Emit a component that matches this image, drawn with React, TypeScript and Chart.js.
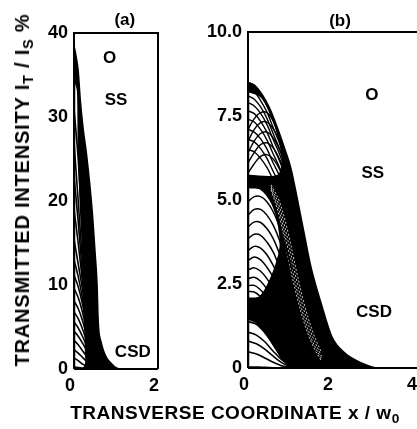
import React, { useEffect, useRef } from 'react';
import { Chart, registerables } from 'chart.js';

Chart.register(...registerables);

const FONT = '"Liberation Sans", Arial, Helvetica, sans-serif';
const NARROW = '"Liberation Sans Narrow", "Liberation Sans", Arial, sans-serif';

// ---------- panel (a) ----------
const aXTicks = [0, 2];
const aXLabels = ['0', '2'];
const aYTicks = [0, 10, 20, 30, 40];
const aYLabels = ['0', '10', '20', '30', '40'];

// outer envelope of the curve family
const aEnvX = [0, 0.04, 0.1, 0.15, 0.22, 0.3, 0.43, 0.5, 0.55, 0.57, 0.59, 0.64, 0.7, 0.78, 0.9, 1.0, 1.08, 2.0];
const aEnvY = [38.5, 37.5, 35.5, 32, 28.5, 25.5, 19, 14, 10, 6.5, 4.6, 3.3, 2.2, 1.3, 0.6, 0.15, 0, 0];

// open (white) region between the curves near the axis
const aHoleX = [0.03, 0.07, 0.09, 0.14, 0.2, 0.22, 0.26, 0.24, 0.03];
const aHoleY = [34, 33, 26, 19, 13, 8, 2, 0.3, 0.3];

// individual low-intensity curves
const aCurveX = [0, 0.1, 0.2, 0.3];
const aCurveY = [
  [31, 25, 17, 10],
  [27, 20, 13, 8],
  [23, 17.5, 11.5, 7],
  [19, 15, 10.5, 6.5],
  [15.5, 12.5, 9.5, 6],
  [13, 11, 8.5, 5.5],
  [11.2, 9.8, 7.8, 5],
  [9.6, 8.5, 6.8, 4.5],
  [8.1, 7.2, 5.8, 4],
  [6.8, 6.0, 4.8, 3.4],
  [5.6, 4.9, 3.9, 2.8],
  [4.5, 3.9, 3.1, 2.2],
  [3.4, 2.9, 2.2, 1.5],
  [2.3, 1.9, 1.4, 0.9],
  [1.3, 1.0, 0.6, 0.3],
];

const aNoteText = ['O', 'SS', 'CSD'];
const aNoteX = [0.85, 1.0, 1.4];
const aNoteY = [37, 32, 2];
const aPanelLabel = '(a)';
const aPanelX = 1.21;
const aPanelY = 41.5;

// ---------- panel (b) ----------
const bXTicks = [0, 2, 4];
const bXLabels = ['0', '2', '4'];
const bYTicks = [0, 2.5, 5, 7.5, 10];
const bYLabels = ['0', '2.5', '5.0', '7.5', '10.0'];

const bEnvX = [0, 0.2, 0.5, 0.7, 0.86, 1.02, 1.17, 1.33, 1.5, 1.74, 2.0, 2.3, 2.7, 3.1, 4.0];
const bEnvY = [8.5, 8.36, 7.77, 7.15, 6.58, 5.95, 5.06, 4.05, 3.0, 1.93, 0.92, 0.45, 0.15, 0, 0];

const bHole1X = [0.03, 0.3, 0.55, 0.72, 0.8, 0.7, 0.03];
const bHole1Y = [8.2, 8.05, 7.5, 6.8, 6.2, 5.75, 5.75];
const bHole2X = [0.03, 0.3, 0.55, 0.7, 0.75, 0.6, 0.4, 0.25, 0.03];
const bHole2Y = [5.35, 5.3, 4.9, 4.3, 3.6, 2.9, 2.35, 2.12, 2.1];
const bHole3X = [0.03, 0.2, 0.4, 0.6, 0.8, 0.92, 0.03];
const bHole3Y = [1.42, 1.32, 1.05, 0.65, 0.25, 0.05, 0.05];

// on-axis-peaked curves and off-axis-peaked curves forming the mesh
const bMeshX = [0, 0.15, 0.3, 0.45, 0.6, 0.75, 0.9, 1.05];
const bMeshY = [
  [8.5, 8.42, 8.15, 7.8, 7.35, 6.85, 6.3, 5.7],
  [8.3, 8.22, 7.96, 7.62, 7.15, 6.7, 6.15, 5.55],
  [8.1, 8.0, 7.77, 7.43, 6.97, 6.53, 6.0, 5.4],
  [7.9, 7.8, 7.58, 7.25, 6.8, 6.37, 5.85, 5.28],
  [7.65, 7.57, 7.34, 7.02, 6.58, 6.17, 5.66, 5.1],
  [7.4, 7.32, 7.1, 6.79, 6.37, 5.97, 5.48, 4.95],
  [7.1, 7.02, 6.82, 6.52, 6.1, 5.72, 5.25, 4.75],
  [6.8, 6.73, 6.53, 6.24, 5.85, 5.48, 5.03, 4.55],
  [6.5, 6.43, 6.24, 5.97, 5.6, 5.24, 4.81, 4.35],
  [7.1, 7.42, 7.6, 7.6, 7.35, 6.9, 6.35, 5.75],
  [6.75, 7.1, 7.3, 7.32, 7.12, 6.75, 6.22, 5.62],
  [6.4, 6.76, 6.98, 7.02, 6.85, 6.5, 6.0, 5.42],
  [6.1, 6.42, 6.65, 6.7, 6.55, 6.22, 5.75, 5.2],
  [5.8, 6.08, 6.3, 6.35, 6.22, 5.92, 5.48, 4.95],
];

const bArcX = [0, 0.15, 0.3, 0.45, 0.6, 0.75, 0.9, 1.05];
const bArcY = [
  [4.95, 5.1, 5.1, 4.95, 4.65, 4.2, 3.6, 2.9],
  [4.55, 4.72, 4.72, 4.55, 4.25, 3.8, 3.2, 2.5],
  [4.2, 4.35, 4.33, 4.15, 3.85, 3.4, 2.85, 2.2],
  [3.85, 3.98, 3.95, 3.75, 3.45, 3.0, 2.5, 1.9],
  [3.5, 3.62, 3.57, 3.37, 3.05, 2.65, 2.15, 1.6],
  [3.2, 3.3, 3.22, 3.0, 2.7, 2.3, 1.85, 1.35],
  [2.92, 2.98, 2.88, 2.66, 2.35, 2.0, 1.6, 1.15],
  [2.66, 2.7, 2.58, 2.35, 2.05, 1.72, 1.35, 0.95],
  [2.45, 2.46, 2.32, 2.1, 1.82, 1.5, 1.15, 0.8],
  [2.28, 2.26, 2.12, 1.9, 1.62, 1.32, 1.0, 0.7],
];

const bLowX = [0, 0.2, 0.4, 0.6, 0.8, 1.0];
const bLowY = [
  [1.38, 1.3, 1.05, 0.7, 0.35, 0.1],
  [1.07, 0.98, 0.78, 0.5, 0.25, 0.08],
  [0.8, 0.72, 0.56, 0.35, 0.16, 0.05],
  [0.48, 0.42, 0.3, 0.17, 0.07, 0.02],
];

// thin light gaps left between neighbouring curves inside the dark band
const bStreakX = [0.55, 0.75, 0.95, 1.15, 1.35, 1.55, 1.75];
const bStreakY = [
  [5.3, 4.5, 3.3, 2.2, 1.3, 0.65, 0.2],
  [5.35, 4.65, 3.55, 2.4, 1.45, 0.75, 0.27],
  [5.4, 4.8, 3.8, 2.65, 1.65, 0.9, 0.35],
  [5.45, 4.95, 4.05, 2.9, 1.85, 1.05, 0.45],
];

const bNoteText = ['O', 'SS', 'CSD'];
const bNoteX = [2.95, 2.97, 3.0];
const bNoteY = [8.12, 5.8, 1.65];
const bPanelLabel = '(b)';
const bPanelX = 2.19;
const bPanelY = 10.33;

// ---------- helpers ----------
const pts = (xs: number[], ys: number[]) => xs.map((x, i) => ({ x, y: ys[i] }));

const envDs = (xs: number[], ys: number[]) => ({
  data: pts(xs, ys),
  borderColor: '#000',
  backgroundColor: '#000',
  borderWidth: 1.5,
  pointRadius: 0,
  fill: 'origin',
  cubicInterpolationMode: 'monotone',
  order: 10,
});

const holeDs = (xs: number[], ys: number[]) => ({
  data: pts(xs, ys),
  borderColor: '#fff',
  backgroundColor: '#fff',
  borderWidth: 0,
  pointRadius: 0,
  fill: 'shape',
  tension: 0.3,
  order: 8,
});

const curveDs = (xs: number[], ys: number[], color: string, width: number, order: number, dash: number[] = []) => ({
  data: pts(xs, ys),
  borderColor: color,
  borderWidth: width,
  borderDash: dash,
  pointRadius: 0,
  fill: false,
  tension: 0.35,
  order,
});

const tickFont = { family: FONT, size: 18, weight: 'bold' as const };

const decor = (notesT: string[], notesX: number[], notesY: number[], lbl: string, lx: number, ly: number, rightSide: boolean) => ({
  id: 'decor',
  afterDatasetsDraw(chart: any) {
    const { ctx, chartArea: a } = chart;
    ctx.save();
    ctx.strokeStyle = '#000';
    ctx.lineWidth = 2;
    ctx.beginPath();
    ctx.moveTo(a.left, a.bottom);
    ctx.lineTo(a.left, a.top);
    ctx.lineTo(a.right + (rightSide ? 0 : 30), a.top);
    if (rightSide) ctx.lineTo(a.right, a.bottom);
    ctx.moveTo(a.left, a.bottom);
    ctx.lineTo(a.right + (rightSide ? 0 : 30), a.bottom);
    ctx.stroke();
    ctx.restore();
  },
  afterDraw(chart: any) {
    const { ctx, scales } = chart;
    const x = scales.x;
    const y = scales.y;
    ctx.save();
    ctx.fillStyle = '#000';
    ctx.textAlign = 'center';
    ctx.textBaseline = 'middle';
    ctx.font = `bold 17px ${NARROW}`;
    notesT.forEach((t, i) => {
      ctx.fillText(t, x.getPixelForValue(notesX[i]), y.getPixelForValue(notesY[i]));
    });
    ctx.font = `bold 17px ${FONT}`;
    ctx.fillText(lbl, x.getPixelForValue(lx), y.getPixelForValue(ly));
    ctx.restore();
  },
});

const makeConfig = (opts: {
  datasets: any[];
  xMax: number; yMax: number;
  xTicks: number[]; xLabels: string[];
  yTicks: number[]; yLabels: string[];
  yAxisWidth: number;
  padding: { left: number; right: number; top: number; bottom: number };
  plugin: any;
}) => ({
  type: 'line' as const,
  data: { datasets: opts.datasets },
  options: {
    animation: false,
    responsive: false,
    events: [],
    layout: { padding: opts.padding, autoPadding: false },
    plugins: {
      legend: { display: false },
      tooltip: { enabled: false },
      filler: { drawTime: 'beforeDatasetDraw' },
    },
    scales: {
      x: {
        type: 'linear',
        min: 0,
        max: opts.xMax,
        grid: { display: false, drawTicks: false },
        border: { display: false },
        afterBuildTicks: (s: any) => { s.ticks = opts.xTicks.map((v) => ({ value: v })); },
        afterFit: (s: any) => { s.height = 30; s.paddingLeft = 0; s.paddingRight = 0; },
        ticks: {
          font: tickFont,
          color: '#000',
          padding: 6,
          maxRotation: 0,
          autoSkip: false,
          labelOffset: -4,
          callback: (v: number) => opts.xLabels[opts.xTicks.indexOf(v)] ?? '',
        },
      },
      y: {
        type: 'linear',
        min: 0,
        max: opts.yMax,
        grid: { display: false, drawTicks: false },
        border: { display: false },
        afterBuildTicks: (s: any) => { s.ticks = opts.yTicks.map((v) => ({ value: v })); },
        afterFit: (s: any) => { s.width = opts.yAxisWidth; s.paddingTop = 0; s.paddingBottom = 0; },
        ticks: {
          font: tickFont,
          color: '#000',
          padding: 6,
          autoSkip: false,
          callback: (v: number) => opts.yLabels[opts.yTicks.indexOf(v)] ?? '',
        },
      },
    },
  },
  plugins: [opts.plugin],
});

const subStyle: React.CSSProperties = { fontSize: '0.72em', verticalAlign: '-0.3em', lineHeight: 0 };

export default function App() {
  const refA = useRef<HTMLCanvasElement>(null);
  const refB = useRef<HTMLCanvasElement>(null);

  useEffect(() => {
    const dsA = [
      envDs(aEnvX, aEnvY),
      holeDs(aHoleX, aHoleY),
      ...aCurveY.map((ys) => curveDs(aCurveX, ys, '#000', 1.6, 1)),
    ];
    const dsB = [
      envDs(bEnvX, bEnvY),
      holeDs(bHole1X, bHole1Y),
      holeDs(bHole2X, bHole2Y),
      holeDs(bHole3X, bHole3Y),
      ...bStreakY.map((ys) => curveDs(bStreakX, ys, '#fff', 0.8, 3, [2, 2])),
      ...bMeshY.map((ys) => curveDs(bMeshX, ys, '#000', 1.4, 1)),
      ...bArcY.map((ys) => curveDs(bArcX, ys, '#000', 1.5, 1)),
      ...bLowY.map((ys) => curveDs(bLowX, ys, '#000', 1.6, 1)),
    ];
    const chartA = new Chart(refA.current as HTMLCanvasElement, makeConfig({
      datasets: dsA,
      xMax: 2, yMax: 40,
      xTicks: aXTicks, xLabels: aXLabels,
      yTicks: aYTicks, yLabels: aYLabels,
      yAxisWidth: 30,
      padding: { left: 44, right: 22, top: 33, bottom: 30 },
      plugin: decor(aNoteText, aNoteX, aNoteY, aPanelLabel, aPanelX, aPanelY, true),
    }) as any);
    const chartB = new Chart(refB.current as HTMLCanvasElement, makeConfig({
      datasets: dsB,
      xMax: 4, yMax: 10,
      xTicks: bXTicks, xLabels: bXLabels,
      yTicks: bYTicks, yLabels: bYLabels,
      yAxisWidth: 45,
      padding: { left: 13, right: 24, top: 32, bottom: 31 },
      plugin: decor(bNoteText, bNoteX, bNoteY, bPanelLabel, bPanelX, bPanelY, false),
    }) as any);
    return () => { chartA.destroy(); chartB.destroy(); };
  }, []);

  return (
    <div style={{ position: 'fixed', left: 0, top: 0, width: 417, height: 429, overflow: 'hidden', background: '#fff', fontFamily: FONT }}>
      <canvas ref={refA} width={180} height={429} style={{ position: 'absolute', left: 0, top: 0 }} />
      <canvas ref={refB} width={250} height={429} style={{ position: 'absolute', left: 190, top: 0 }} />
      <div style={{
        position: 'absolute', left: 22, top: 190, transform: 'translate(-50%, -50%) rotate(-90deg)',
        whiteSpace: 'nowrap', font: `bold 20px ${FONT}`, letterSpacing: '0.8px', lineHeight: 1, color: '#000',
      }}>
        TRANSMITTED INTENSITY I<span style={subStyle}>T</span> / I<span style={subStyle}>S</span> %
      </div>
      <div style={{
        position: 'absolute', left: 235, top: 412, transform: 'translate(-50%, -50%)',
        whiteSpace: 'nowrap', font: `bold 19px ${FONT}`, letterSpacing: '0.5px', lineHeight: 1, color: '#000',
      }}>
        TRANSVERSE COORDINATE x / w<span style={subStyle}>0</span>
      </div>
    </div>
  );
}
